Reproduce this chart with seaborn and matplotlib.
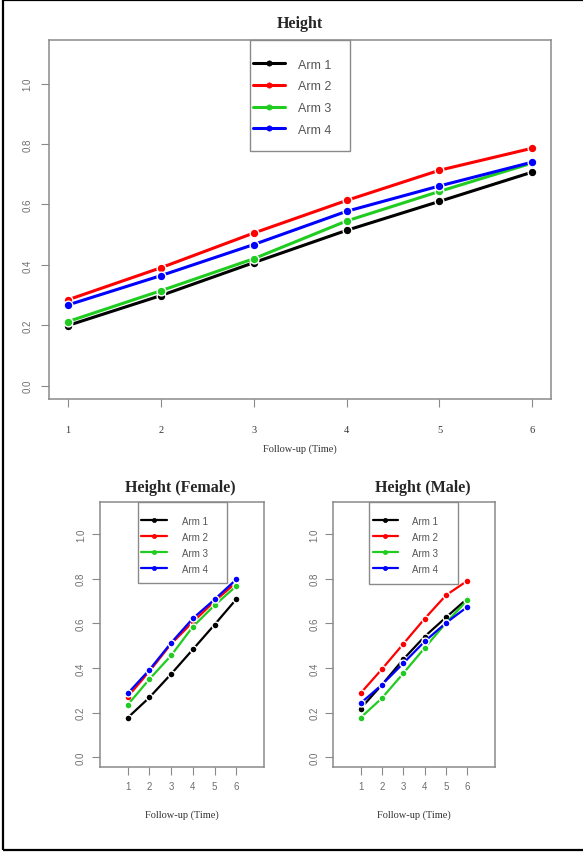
import matplotlib
matplotlib.use("Agg")
import matplotlib.pyplot as plt
from matplotlib.patches import Rectangle
import seaborn as sns
import pandas as pd

# ---------------- data ----------------
time = [1, 2, 3, 4, 5, 6]
arms = ["Arm 1", "Arm 2", "Arm 3", "Arm 4"]
arm_colors = ["#000000", "#FF0000", "#1FCC1F", "#0000FF"]

all_arm1 = [0.199, 0.298, 0.407, 0.514, 0.610, 0.707]
all_arm2 = [0.284, 0.390, 0.505, 0.613, 0.713, 0.786]
all_arm3 = [0.212, 0.314, 0.420, 0.545, 0.643, 0.737]
all_arm4 = [0.267, 0.364, 0.467, 0.577, 0.661, 0.740]

fem_arm1 = [0.177, 0.268, 0.373, 0.483, 0.594, 0.708]
fem_arm2 = [0.271, 0.385, 0.508, 0.606, 0.699, 0.783]
fem_arm3 = [0.235, 0.350, 0.456, 0.585, 0.681, 0.767]
fem_arm4 = [0.286, 0.392, 0.513, 0.622, 0.707, 0.797]

male_arm1 = [0.218, 0.325, 0.439, 0.541, 0.627, 0.711]
male_arm2 = [0.287, 0.395, 0.508, 0.621, 0.726, 0.791]
male_arm3 = [0.177, 0.265, 0.376, 0.490, 0.602, 0.704]
male_arm4 = [0.242, 0.325, 0.421, 0.519, 0.602, 0.674]

y_ticks = [0.0, 0.2, 0.4, 0.6, 0.8, 1.0]
y_ticklabels = ["0.0", "0.2", "0.4", "0.6", "0.8", "1.0"]

titles = ["Height", "Height (Female)", "Height (Male)"]
xlabel = "Follow-up (Time)"


def make_df(series):
    rows = []
    for arm, vals in zip(arms, series):
        for t, v in zip(time, vals):
            rows.append({"time": t, "value": v, "arm": arm})
    return pd.DataFrame(rows)


sns.set_style("white")
plt.rcParams["font.family"] = ["Liberation Sans", "DejaVu Sans"]

SERIF = ["Liberation Serif", "DejaVu Serif"]
SANS = ["Liberation Sans", "DejaVu Sans"]
GRAY = "#8a8a8a"
TXTGRAY = "#6e6e6e"

W, H = 583, 853
fig = plt.figure(figsize=(W / 100, H / 100), dpi=100)
fig.patch.set_facecolor("white")


def ax_at(x0, y0, x1, y1):
    # pixel box (image coords, y down) -> figure fraction
    return fig.add_axes([x0 / W, 1 - y1 / H, (x1 - x0) / W, (y1 - y0) / H])


def style_axes(ax, xlim, small):
    ax.set_xlim(*xlim)
    ax.set_ylim(-0.044, 1.144)
    for s in ax.spines.values():
        s.set_color(GRAY)
        s.set_linewidth(1.1)
        s.set_visible(True)
    ax.set_facecolor("white")
    ax.set_xticks(time)
    ax.set_yticks(y_ticks)
    ax.set_yticklabels(y_ticklabels, rotation=90, va="center",
                       family=SANS, fontsize=7, color=TXTGRAY)
    ax.tick_params(axis="both", direction="out", length=5.5, width=0.8,
                   color=GRAY, left=True, bottom=True)
    if small:
        ax.set_xticklabels([str(t) for t in time], family=SANS,
                           fontsize=7, color=TXTGRAY)
        ax.tick_params(axis="x", pad=4.5)
        ax.tick_params(axis="y", pad=4.6)
    else:
        ax.set_xticklabels([str(t) for t in time], family=SERIF,
                           fontsize=7.5, color="#333333")
        ax.tick_params(axis="x", pad=13)
        ax.tick_params(axis="y", pad=6.5)


def draw_panel(ax, series, lw, ms, legend_spec, fs, small):
    df = make_df(series)
    sns.lineplot(data=df, x="time", y="value", hue="arm", hue_order=arms,
                 palette=arm_colors, marker="o", markersize=ms,
                 markeredgecolor="white", markeredgewidth=1.0,
                 linewidth=lw, legend=False, ax=ax)
    ax.set_xlabel("")
    ax.set_ylabel("")
    lines = ax.get_lines()[:4]
    fx0, fx1, fy0, hx, hy, hl, htp, ls = legend_spec
    ax.add_patch(Rectangle((fx0, fy0), fx1 - fx0, 1.0 - fy0,
                           transform=ax.transAxes, facecolor="white",
                           edgecolor=GRAY, linewidth=1.0, zorder=5,
                           clip_on=False))
    leg = ax.legend(lines, arms, loc="upper left", bbox_to_anchor=(hx, hy),
                    frameon=False, borderpad=0, borderaxespad=0,
                    handlelength=hl, handletextpad=htp, labelspacing=ls,
                    prop={"family": SANS, "size": fs}, markerscale=0.6)
    leg.set_zorder(6)
    for h, c in zip(leg.legend_handles, arm_colors):
        h.set_markeredgecolor(c)
        h.set_markeredgewidth(0.5)
    for t in leg.get_texts():
        t.set_color("#555555")


# ---- top panel ----
ax1 = ax_at(49.1, 41, 551.0, 400)
draw_panel(ax1, [all_arm1, all_arm2, all_arm3, all_arm4], lw=2.2, ms=6.3,
           legend_spec=(0.3996, 0.5986, 0.6916, 0.4063, 0.948, 2.56, 1.04, 0.77),
           fs=9, small=False)
style_axes(ax1, (0.8, 6.2), small=False)
ax1.set_title(titles[0], family=SERIF, fontweight="bold", fontsize=11.5, pad=9)
ax1.set_xlabel(xlabel, family=SERIF, fontsize=7.5, color="#333333", labelpad=7)

# ---- female ----
ax2 = ax_at(100, 503, 264, 768)
draw_panel(ax2, [fem_arm1, fem_arm2, fem_arm3, fem_arm4], lw=1.6, ms=5,
           legend_spec=(0.23, 0.773, 0.693, 0.248, 0.949, 2.75, 1.45, 0.62),
           fs=7, small=True)
style_axes(ax2, (-0.28, 7.28), small=True)
ax2.set_title(titles[1], family=SERIF, fontweight="bold", fontsize=11.5, pad=8,
              x=0.488)
ax2.set_xlabel(xlabel, family=SERIF, fontsize=7.5, color="#333333", labelpad=13)

# ---- male ----
ax3 = ax_at(333.3, 503, 494.7, 768)
draw_panel(ax3, [male_arm1, male_arm2, male_arm3, male_arm4], lw=1.6, ms=5,
           legend_spec=(0.219, 0.771, 0.69, 0.244, 0.949, 2.63, 1.42, 0.62),
           fs=7, small=True)
style_axes(ax3, (-0.28, 7.28), small=True)
ax3.set_title(titles[2], family=SERIF, fontweight="bold", fontsize=11.5, pad=8,
              x=0.554)
ax3.set_xlabel(xlabel, family=SERIF, fontsize=7.5, color="#333333", labelpad=13)

# outer frame
fig.add_artist(Rectangle((3 / W, 1 - 851 / H), (W + 5 - 3) / W, (850) / H,
                         transform=fig.transFigure, fill=False,
                         edgecolor="black", linewidth=1.6))

fig.savefig("out.png", dpi=100, facecolor="white")
